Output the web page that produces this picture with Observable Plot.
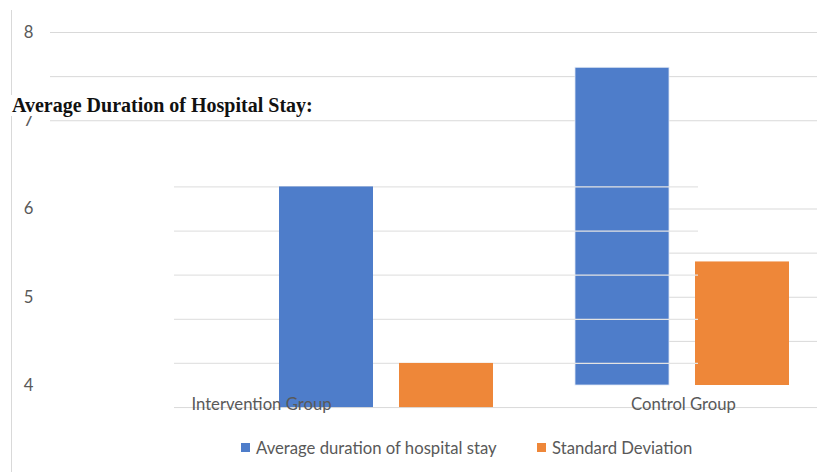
<!DOCTYPE html>
<html>
<head>
<meta charset="utf-8">
<script src="https://cdn.jsdelivr.net/npm/d3@7"></script>
<script src="https://cdn.jsdelivr.net/npm/@observablehq/plot@0.6"></script>
<style>
  html, body { margin: 0; padding: 0; background: #fff; }
  #wrap { position: relative; width: 817px; height: 472px; overflow: hidden; background: #fff; }
  #chart { position: absolute; left: 0; top: 0; }
  #axisline { position: absolute; left: 11px; top: 10px; width: 1px; height: 462px; background: #d9d9d9; }
  #title {
    position: absolute; left: 11px; top: 95px; padding: 0 2px 0 1px;
    font-family: "Liberation Serif", "Times New Roman", serif; font-weight: bold;
    font-size: 20px; line-height: 21px; height: 21px; color: #111; background: #fff; white-space: nowrap;
  }
  #legend { position: absolute; top: 438px; left: 0; width: 817px; height: 20px;
    font-family: Lato, "Open Sans", sans-serif; font-size: 16.7px; color: #595959; }
  .item { position: absolute; top: 0; height: 20px; line-height: 20px; white-space: nowrap; }
  .swatch { position: absolute; left: 0; top: 5px; width: 9px; height: 9px; }
  .item span.label { position: absolute; left: 15px; top: 0; }
</style>
</head>
<body>
<div id="wrap">
  <div id="chart"></div>
  <div id="axisline"></div>
  <div id="title">Average Duration of Hospital Stay:</div>
  <div id="legend"></div>
</div>
<script>
// Groups, series and values
const groups = ["Intervention Group", "Control Group"];
const series = ["Average duration of hospital stay", "Standard Deviation"];
const averageStay = [6.25, 7.6];
const standardDeviation = [4.25, 5.4];
const barBase = [3.75, 4];
const colors = ["#4e7dca", "#ee8739"];

// Axis ticks and gridline levels
const yTicks = [4, 5, 6, 7, 8];
const upperGrid = [8, 7.5, 7];
const rightGrid = [6, 5.5, 5, 4.5];
const innerGrid = [6.25, 5.75, 5.25, 4.75, 4.25];
const floorGrid = [3.75];

const rows = groups.flatMap((g, i) => [
  {group: g, series: series[0], value: averageStay[i], base: barBase[i]},
  {group: g, series: series[1], value: standardDeviation[i], base: barBase[i]}
]);
const pick = (g, s) => rows.filter(d => d.group === groups[g] && d.series === series[s]);

const gridColor = "#d9d9d9";
const textColor = "#595959";
const fs = 16.7;

const chart = Plot.plot({
  width: 817,
  height: 430,
  marginTop: 32,
  marginBottom: 45,
  marginLeft: 50,
  marginRight: 0,
  style: {fontFamily: "Lato, 'Open Sans', sans-serif", fontSize: fs + "px", color: textColor, background: "transparent"},
  x: {domain: groups, range: [278.5, 789], paddingInner: 0.278, paddingOuter: 0, axis: null},
  y: {domain: [4, 8], axis: null},
  color: {domain: series, range: colors},
  marks: [
    Plot.axisY({ticks: yTicks, tickFormat: d => String(d), tickSize: 0, tickPadding: 17, fill: textColor, fontSize: fs}),
    Plot.ruleY(upperGrid, {stroke: gridColor, strokeWidth: 1}),
    Plot.ruleY(rightGrid, {stroke: gridColor, strokeWidth: 1, insetLeft: 618}),
    // control group bars
    Plot.barY(pick(1, 0), {x: "group", y1: "base", y2: "value", fill: "series", insetRight: 120, stroke: "#dfe7f4", strokeWidth: 0.8}),
    Plot.barY(pick(1, 1), {x: "group", y1: "base", y2: "value", fill: "series", insetLeft: 120}),
    // inner gridlines over the control bars
    Plot.ruleY(innerGrid, {stroke: "#e3e3e3", strokeWidth: 1.2, insetLeft: 124, insetRight: 119}),
    Plot.ruleY(floorGrid, {stroke: gridColor, strokeWidth: 1, insetLeft: 124}),
    // intervention group bars
    Plot.barY(pick(0, 0), {x: "group", y1: "base", y2: "value", fill: "series", insetRight: 120}),
    Plot.barY(pick(0, 1), {x: "group", y1: "base", y2: "value", fill: "series", insetLeft: 120}),
    // category labels
    Plot.text([groups[0]], {x: d => d, frameAnchor: "bottom", dy: 24, dx: -125, fill: textColor, fontSize: fs}),
    Plot.text([groups[1]], {x: d => d, frameAnchor: "bottom", dy: 24, dx: 1, fill: textColor, fontSize: fs})
  ]
});
document.getElementById("chart").appendChild(chart);

// Legend
const legend = document.getElementById("legend");
const legendLeft = [241, 537];
series.forEach((s, i) => {
  const item = document.createElement("div");
  item.className = "item";
  item.style.left = legendLeft[i] + "px";
  const sw = document.createElement("div");
  sw.className = "swatch";
  sw.style.background = colors[i];
  const lab = document.createElement("span");
  lab.className = "label";
  lab.textContent = s;
  item.appendChild(sw);
  item.appendChild(lab);
  legend.appendChild(item);
});
</script>
</body>
</html>
